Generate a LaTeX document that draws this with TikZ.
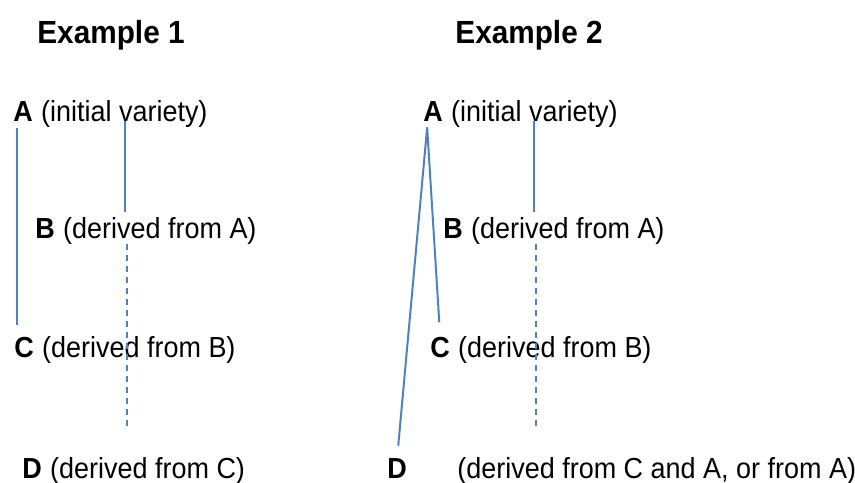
\documentclass[tikz,border=0pt]{standalone}
\usepackage{fontspec}
\setmainfont[FakeStretch=0.93]{Liberation Sans}
\usetikzlibrary{positioning,calc}
\definecolor{linkblue}{RGB}{79,129,189}

\begin{document}
\begin{tikzpicture}[x=0.5pt,y=-0.5pt,
  head/.style={anchor=base west,inner sep=0pt,font=\fontsize{16}{19}\selectfont\bfseries},
  letter/.style={anchor=base west,inner sep=0pt,font=\fontsize{14.5}{17}\selectfont\bfseries},
  descr/.style={inner sep=0pt,font=\fontsize{14.5}{17}\selectfont},
  link/.style={draw=linkblue,line width=1pt},
  dashlink/.style={link,dash pattern=on 3pt off 2.5pt}]
\useasboundingbox (0,0) rectangle (855,482);
% example 1
\node[head] (head1) at (37,43) {Example 1};
\node[letter] (a1) at (13,121) {A};
\node[descr,right=3.75pt of a1.base east,anchor=base west] (a1t) {(initial variety)};
\node[letter] (b1) at (35,238) {B};
\node[descr,right=3.75pt of b1.base east,anchor=base west] (b1t) {(derived from A)};
\node[letter] (c1) at (14,357) {C};
\node[descr,right=3.75pt of c1.base east,anchor=base west] (c1t) {(derived from B)};
\node[letter] (d1) at (22,478) {D};
\node[descr,right=3.75pt of d1.base east,anchor=base west] (d1t) {(derived from C)};
\coordinate (l1) at ([xshift=2pt]a1.south west);
\coordinate (m1) at (125,0);
\coordinate (n1) at (127,0);
\draw[link,shorten <=3.5pt,shorten >=5.5pt] (l1) -- (l1 |- c1.north);
\draw[link,shorten >=2.5pt] (m1 |- a1t.base) -- (m1 |- b1t.north);
\draw[dashlink,shorten >=14.5pt] (n1 |- b1t.south) -- (n1 |- d1t.north);
% example 2
\node[head] (head2) at (455,43) {Example 2};
\node[letter] (a2) at (423,121) {A};
\node[descr,right=3.75pt of a2.base east,anchor=base west] (a2t) {(initial variety)};
\node[letter] (b2) at (443,238) {B};
\node[descr,right=3.75pt of b2.base east,anchor=base west] (b2t) {(derived from A)};
\node[letter] (c2) at (430,357) {C};
\node[descr,right=3.75pt of c2.base east,anchor=base west] (c2t) {(derived from B)};
\node[letter] (d2) at (387,478) {D};
\node[descr,anchor=base west] (d2t) at (457,478) {(derived from C and A, or from A)};
\coordinate (fork) at ([xshift=-3pt,yshift=-3pt]a2.south);
\coordinate (m2) at (534,0);
\coordinate (n2) at (536,0);
\draw[link,shorten >=7pt] (fork) -- (c2.north);
\draw[link,shorten >=6pt] (fork) -- (d2.north);
\draw[link,shorten >=2.5pt] (m2 |- a2t.base) -- (m2 |- b2t.north);
\draw[dashlink,shorten >=14.5pt] (n2 |- b2t.south) -- (n2 |- d2t.north);
\end{tikzpicture}
\end{document}
